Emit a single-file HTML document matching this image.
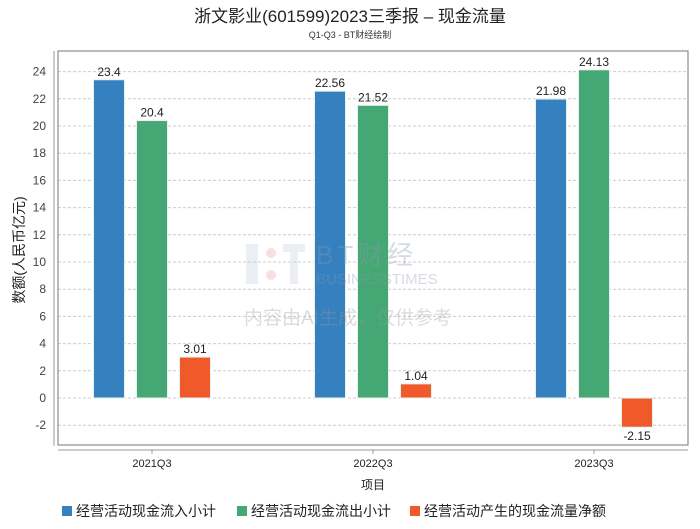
<!DOCTYPE html>
<html><head><meta charset="utf-8"><style>
body{margin:0;background:#fff;}
svg text{font-family:"Liberation Sans","Noto Sans CJK SC",sans-serif;}
</style></head><body>
<svg id="chart" width="700" height="524" xmlns="http://www.w3.org/2000/svg">
<text x="350" y="22" text-anchor="middle" font-size="17" fill="#222">浙文影业(601599)2023三季报 – 现金流量</text>
<text x="350" y="38" text-anchor="middle" font-size="9" fill="#333" font-family="Liberation Mono">Q1-Q3 - BT财经绘制</text>
<g id="grid"></g>
<g id="bars"></g>
<g opacity="0.35">
<rect x="246" y="244" width="12" height="40" fill="#c8d2e0"/>
<circle cx="271" cy="253" r="5" fill="#f0a8a8"/><circle cx="271" cy="275" r="5" fill="#f0a8a8"/>
<rect x="283" y="244" width="22" height="8" fill="#c8d2e0"/><rect x="290" y="252" width="8" height="32" fill="#c8d2e0"/>
<text x="316" y="264" font-size="26" fill="#8898b0" font-family="Liberation Serif" letter-spacing="4">BT财经</text>
<text x="316" y="284" font-size="15" fill="#8898b0" font-family="Liberation Serif">BUSINESSTIMES</text>
<text x="348" y="324" text-anchor="middle" font-size="19" fill="#999">内容由AI生成，仅供参考</text>
</g>
<line x1="54" y1="51" x2="54" y2="446" stroke="#999"/>
<line x1="58" y1="450" x2="688" y2="450" stroke="#999"/>
<rect x="58" y="51" width="630" height="394" fill="none" stroke="#777"/>
<text transform="translate(24,250) rotate(-90)" text-anchor="middle" font-size="14" fill="#222">数额(人民币亿元)</text>
<text x="373" y="489" text-anchor="middle" font-size="12" fill="#222">项目</text>
<g id="legend"></g>
</svg>
<script>
const categories=["2021Q3","2022Q3","2023Q3"];
const seriesNames=["经营活动现金流入小计","经营活动现金流出小计","经营活动产生的现金流量净额"];
const inflow=[23.4,22.56,21.98];
const outflow=[20.4,21.52,24.13];
const net=[3.01,1.04,-2.15];
const yTicks=[-2,0,2,4,6,8,10,12,14,16,18,20,22,24];
const colors=["#3580bf","#45a874","#f05a2a"];
const NS="http://www.w3.org/2000/svg";
function y(v){return 398-v*13.6;}
function xc(i){return 152+i*221;}
function mk(t,a,p){const e=document.createElementNS(NS,t);for(const k in a)e.setAttribute(k,a[k]);p.appendChild(e);return e;}
const grid=document.getElementById('grid');
yTicks.forEach(t=>{
 const l=mk('line',{x1:58,x2:688,y1:y(t),y2:y(t),stroke:'#ccc','stroke-dasharray':'3,2'},grid);
 
 
 const tx=mk('text',{x:46,y:y(t)+4,'text-anchor':'end','font-size':12,fill:'#444'},grid);
 tx.textContent=t;
 
 
});
const bars=document.getElementById('bars');
const series=[inflow,outflow,net];
categories.forEach((c,i)=>{
 series.forEach((s,j)=>{
  const v=s[i];const x=xc(i)+(j-1)*43-15.5;
  const top=Math.min(y(v),y(0));const h=Math.abs(y(v)-y(0));
  const r=mk('rect',{x:x,y:top,width:31,height:h,fill:colors[j],stroke:'#e6f2f0','stroke-width':1},bars);
  
  
  const t=mk('text',{x:x+15.5,y:v>=0?y(v)-4:y(v)+13,'text-anchor':'middle','font-size':12,fill:'#222'},bars);
  t.textContent=v;
  
  
 });
 mk('line',{x1:xc(i),x2:xc(i),y1:450,y2:454,stroke:'#999'},bars);
 const tl=mk('text',{x:xc(i),y:467,'text-anchor':'middle','font-size':11,fill:'#222'},bars);
 tl.textContent=c;
 
 
});
const lg=document.getElementById('legend');
const lx=[62,237,410];
seriesNames.forEach((n,j)=>{
 const g=mk('g',{},lg);
 
 
 mk('rect',{x:lx[j],y:506,width:10,height:10,fill:colors[j]},g);
 const t=mk('text',{x:lx[j]+14,y:516,'font-size':14,fill:'#222'},g);
 t.textContent=n;
});
</script>
</body></html>
